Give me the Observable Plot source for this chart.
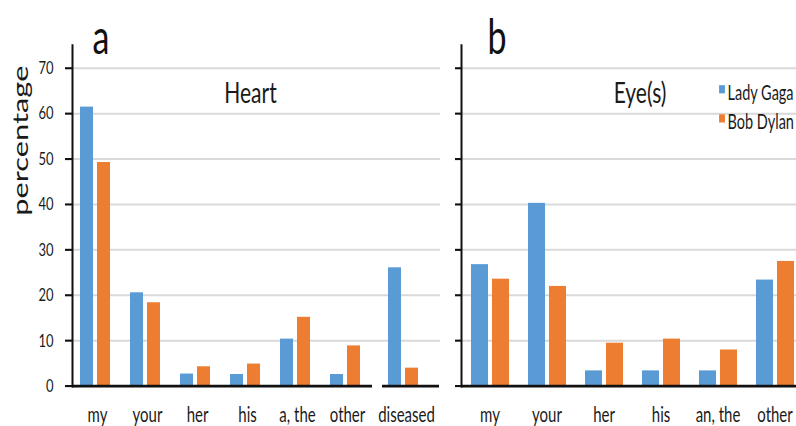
<!DOCTYPE html>
<html>
<head>
<meta charset="utf-8">
<script src="https://cdn.jsdelivr.net/npm/d3@7"></script>
<script src="https://cdn.jsdelivr.net/npm/@observablehq/plot@0.6"></script>
<style>
  html, body { margin: 0; padding: 0; background: #fff; overflow: hidden; width: 796px; height: 426px; }
  #stage { position: relative; width: 796px; height: 304px; transform: scaleY(1.4013); transform-origin: 0 0; }
  #stage svg { position: absolute; top: 0; }
</style>
</head>
<body>
<div id="stage"></div>
<script>
// ---- data ----
const series = ["Lady Gaga", "Bob Dylan"];
const colors = ["#5B9BD5", "#ED7D31"];

const heartWords = ["my", "your", "her", "his", "a, the", "other"];
const heartLadyGaga = [61.4, 20.5, 2.6, 2.5, 10.3, 2.5];
const heartBobDylan = [49.2, 18.3, 4.2, 4.8, 15.1, 8.8];

const diseasedWords = ["diseased"];
const diseasedLadyGaga = [26.0];
const diseasedBobDylan = [3.9];

const eyeWords = ["my", "your", "her", "his", "an, the", "other"];
const eyeLadyGaga = [26.7, 40.2, 3.3, 3.3, 3.3, 23.3];
const eyeBobDylan = [23.5, 21.9, 9.4, 10.3, 7.9, 27.4];

const yTicks = [0, 10, 20, 30, 40, 50, 60, 70];
const gridTicks = [10, 20, 30, 40, 50, 60, 70];
const panelLetters = ["a", "b"];
const panelTitles = ["Heart", "Eye(s)"];
const yLabel = "percentage";

// ---- helpers ----
function table(words, lg, bd) {
  return words.flatMap((w, i) => [
    {word: w, series: series[0], value: lg[i]},
    {word: w, series: series[1], value: bd[i]}
  ]);
}
const H = 304, MT = 32, MB = 29;
const FONT = "Lato, 'Open Sans', sans-serif";
const baseStyle = {fontFamily: FONT, color: "#1a1a1a", background: "transparent", overflow: "visible"};
const grid = () => Plot.ruleY(gridTicks, {stroke: "#d9d9d9", strokeWidth: 1.4});
const bars = (data) => Plot.barY(data, {fx: "word", x: "series", y: "value", fill: "series"});
const fxAxis = () => Plot.axisFx({anchor: "bottom", tickSize: 0, tickPadding: 15, fontSize: 15, label: null, fill: "#1a1a1a"});
const yLine = () => Plot.frame({anchor: "left", facetAnchor: "left", stroke: "#111", strokeWidth: 2});
const once = {facetAnchor: "left", frameAnchor: "top-left"};

const stage = document.getElementById("stage");
function place(svg, left) { svg.style.left = left + "px"; stage.appendChild(svg); }

// ---- panel a (pronouns) ----
const plotA = Plot.plot({
  width: 372, height: H, marginLeft: 72, marginRight: 0, marginTop: MT, marginBottom: MB,
  style: baseStyle,
  fx: {domain: heartWords, padding: 0},
  x: {domain: series, axis: null, paddingInner: 0.24, paddingOuter: 0.59, align: 0.42},
  y: {domain: [0, 75]},
  color: {domain: series, range: colors},
  marks: [
    grid(),
    bars(table(heartWords, heartLadyGaga, heartBobDylan)),
    Plot.ruleY([0], {stroke: "#111", strokeWidth: 2}),
    Plot.axisY({ticks: yTicks, tickSize: 7, tickPadding: 12, fontSize: 13, label: null, strokeWidth: 1.5, stroke: "#111"}),
    yLine(),
    fxAxis(),
    Plot.text([yLabel], {facetAnchor: "left", frameAnchor: "left", rotate: -90, dx: -52, fontSize: 22, text: d => d, fill: "#1a1a1a"}),
    Plot.text([panelLetters[0]], {...once, text: d => d, dx: 20, dy: 5.9, lineAnchor: "bottom", textAnchor: "start", fontSize: 34, fill: "#111"}),
    Plot.text([panelTitles[0]], {...once, text: d => d, dx: 178, dy: 40.9, lineAnchor: "bottom", textAnchor: "middle", fontSize: 21, fill: "#1a1a1a"})
  ]
});
place(plotA, 0);

// ---- panel a (diseased) ----
const plotD = Plot.plot({
  width: 68, height: H, marginLeft: 0, marginRight: 0, marginTop: MT, marginBottom: MB,
  style: baseStyle,
  fx: {domain: diseasedWords, padding: 0},
  x: {domain: series, axis: null, paddingInner: 0.24, paddingOuter: 1.12, align: 0.42},
  y: {domain: [0, 75], axis: null},
  color: {domain: series, range: colors},
  marks: [
    grid(),
    bars(table(diseasedWords, diseasedLadyGaga, diseasedBobDylan)),
    Plot.ruleY([0], {stroke: "#111", strokeWidth: 2, insetLeft: 10, insetRight: 1}),
    fxAxis()
  ]
});
place(plotD, 372);

// ---- panel b (eyes) ----
const plotB = Plot.plot({
  width: 404, height: H, marginLeft: 60, marginRight: 0, marginTop: MT, marginBottom: MB,
  style: baseStyle,
  fx: {domain: eyeWords, padding: 0},
  x: {domain: series, axis: null, paddingInner: 0.21, paddingOuter: 0.44, align: 0.5},
  y: {domain: [0, 75]},
  color: {domain: series, range: colors},
  marks: [
    grid(),
    bars(table(eyeWords, eyeLadyGaga, eyeBobDylan)),
    Plot.ruleY([0], {stroke: "#111", strokeWidth: 2}),
    Plot.axisY({ticks: yTicks, tickSize: 6, tickFormat: () => "", label: null, strokeWidth: 1.5, stroke: "#111"}),
    yLine(),
    fxAxis(),
    Plot.text([panelLetters[1]], {...once, text: d => d, dx: 26, dy: 5.9, lineAnchor: "bottom", textAnchor: "start", fontSize: 34, fill: "#111"}),
    Plot.text([panelTitles[1]], {...once, text: d => d, dx: 178.5, dy: 40.9, lineAnchor: "bottom", textAnchor: "middle", fontSize: 21, fill: "#1a1a1a"}),
    ...series.flatMap((s, i) => [
      Plot.dot([s], {...once, dx: 260.5, dy: 31.2 + i * 20.8, symbol: "square", r: 3.3, fill: colors[i], stroke: "none"}),
      Plot.text([s], {...once, text: d => d, dx: 266, dy: 38.7 + i * 20.8, lineAnchor: "bottom", textAnchor: "start", fontSize: 14.5, fill: "#1a1a1a"})
    ])
  ]
});
place(plotB, 400);
</script>
</body>
</html>
